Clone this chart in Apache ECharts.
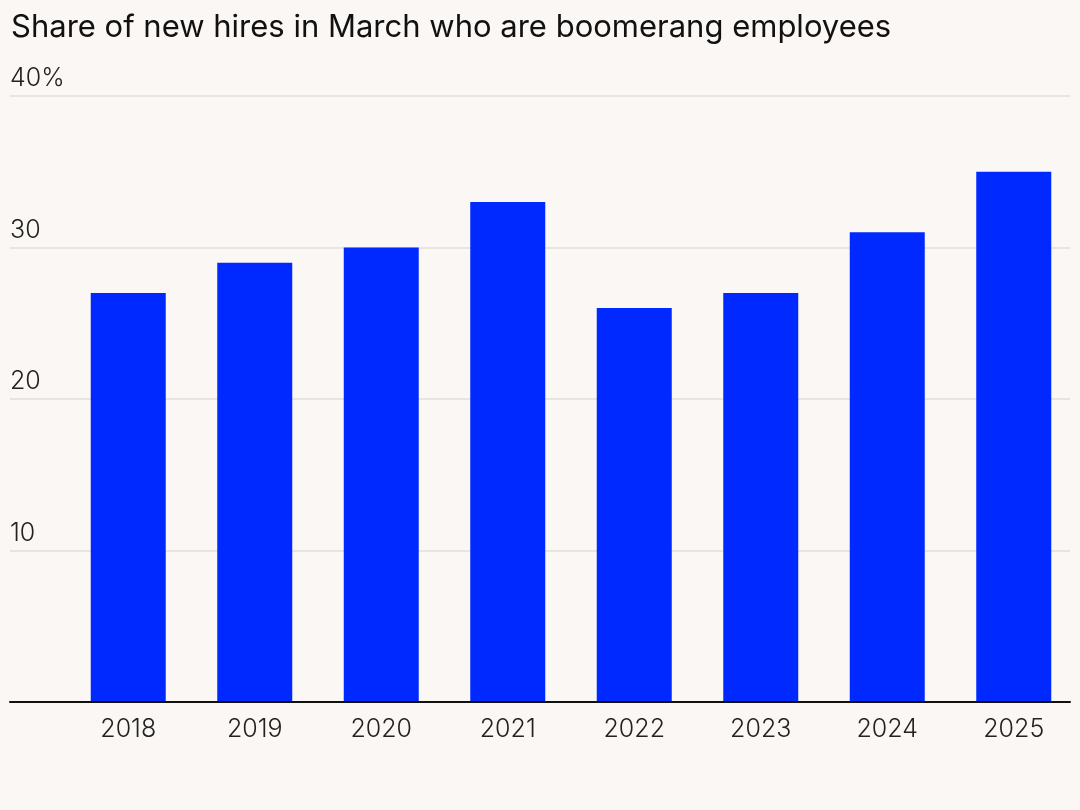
<!DOCTYPE html>
<html>
<head>
<meta charset="utf-8">
<script src="https://cdn.jsdelivr.net/npm/echarts@6/dist/echarts.min.js"></script>
<style>
html,body{margin:0;padding:0;background:#faf7f4;}
#c{width:1080px;height:810px;}
</style>
</head>
<body>
<div id="c"></div>
<script>
const titleText = 'Share of new hires in March who are boomerang employees';
const years = ['2018','2019','2020','2021','2022','2023','2024','2025'];
const shares = [27, 29, 30, 33, 26, 27, 31, 35];
const yTicks = [0, 10, 20, 30, 40];

const FONT = 'Inter, "Liberation Sans", sans-serif';
const chart = echarts.init(document.getElementById('c'));
chart.setOption({
  backgroundColor: '#faf7f4',
  animation: false,
  title: {
    text: titleText,
    left: 6, top: 7,
    textStyle: {fontFamily: FONT, fontSize: 31, fontWeight: 400, color: '#111', letterSpacing: -0.65}
  },
  grid: [
    {left: 10, right: 10, top: 96, bottom: 108},
    {left: 65, right: 3, top: 96, bottom: 108}
  ],
  xAxis: [
    {gridIndex: 0, type: 'value', min: 0, max: 1, show: true,
     axisLabel: {show: false}, axisTick: {show: false}, splitLine: {show: false},
     axisLine: {show: true, lineStyle: {color: '#111', width: 2}}, z: 10},
    {gridIndex: 1, type: 'category', data: years,
     axisLine: {show: false}, axisTick: {show: false},
     axisLabel: {fontFamily: FONT, fontSize: 25, fontWeight: 300, color: '#222', margin: 15}}
  ],
  yAxis: [
    {gridIndex: 0, type: 'value', min: yTicks[0], max: yTicks[yTicks.length-1], interval: 10,
     axisLine: {show: false}, axisTick: {show: false},
     splitLine: {show: true, lineStyle: {color: '#e8e4e0', width: 2}},
     axisLabel: {inside: true, margin: 0, verticalAlign: 'bottom', padding: [0,0,5,0],
       fontFamily: FONT, fontSize: 25, fontWeight: 300, color: '#222',
       formatter: v => v === 0 ? '' : (v === 40 ? v + '%' : String(v))}},
    {gridIndex: 1, type: 'value', min: 0, max: 40, show: false}
  ],
  series: [{
    type: 'bar', xAxisIndex: 1, yAxisIndex: 1,
    data: shares, barWidth: 75,
    itemStyle: {color: '#0029ff'}
  }]
});
</script>
</body>
</html>
